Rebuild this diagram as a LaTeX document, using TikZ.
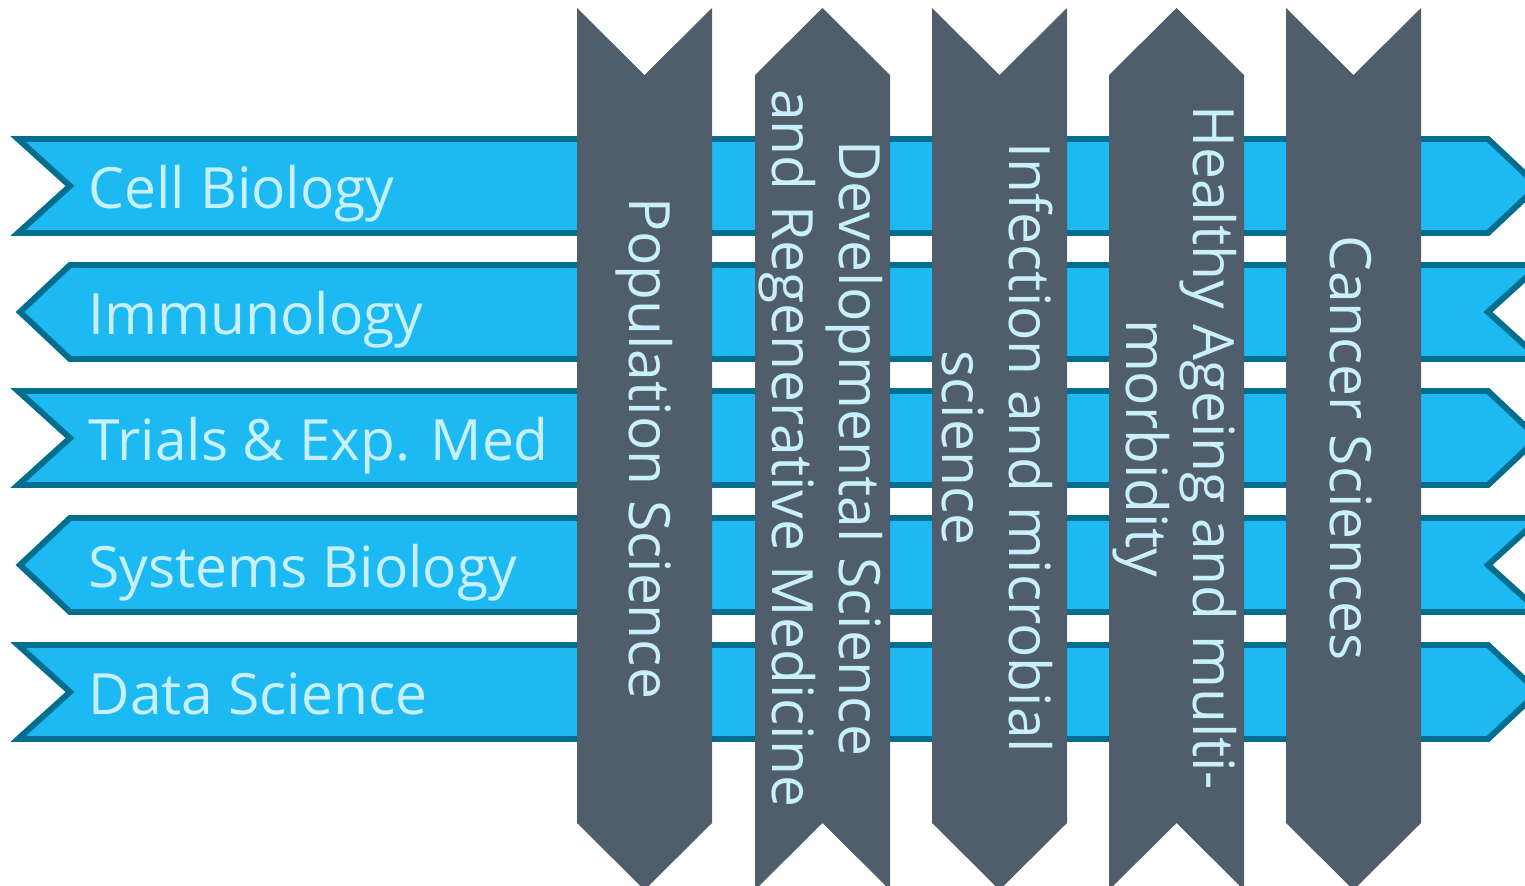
\documentclass[tikz,border=0pt]{standalone}
\usepackage{fontspec}
\setmainfont{Open Sans}
\usepackage{tikz}
\usetikzlibrary{positioning}
\definecolor{bandblue}{RGB}{28,185,242}
\definecolor{bandedge}{RGB}{0,110,140}
\definecolor{pillargrey}{RGB}{80,94,107}
\definecolor{labelcyan}{RGB}{200,240,250}
\tikzstyle{band} = [draw=bandedge, fill=bandblue, line width=1.7pt, line join=miter]
\tikzstyle{column} = [fill=pillargrey]
\tikzstyle{bandlabel} = [anchor=base west, inner sep=0pt, text=labelcyan, font=\fontsize{16.2}{19.5}\selectfont]
\tikzstyle{columnlabel} = [rotate=-90, inner sep=0pt, align=center, text=labelcyan, font=\fontsize{16.2}{19}\selectfont]

\begin{document}
\begin{tikzpicture}[x=0.1mm, y=-0.1mm]
\useasboundingbox (0,0) rectangle (1525,885);

\foreach \c/\t/\n in {186/Cell Biology/cellbio, 438/{Trials \& Exp. Med}/trials, 692/Data Science/datasci}{
  \draw[band] (18,\c-47) -- (1488,\c-47) -- (1538,\c) -- (1488,\c+47) -- (18,\c+47) -- (70,\c) -- cycle;
  \node[bandlabel] (\n) at (88,\c+22) {\t};
}
\foreach \c/\t/\n in {312/Immunology/immuno, 565/Systems Biology/sysbio}{
  \draw[band] (70,\c-47) -- (1540,\c-47) -- (1488,\c) -- (1540,\c+47) -- (70,\c+47) -- (20,\c) -- cycle;
  \node[bandlabel] (\n) at (88,\c+22) {\t};
}

\foreach \x in {577,932,1286}{
  \fill[column] (\x,8) -- (\x+67.5,75) -- (\x+135,8) -- (\x+135,823) -- (\x+67.5,890) -- (\x,823) -- cycle;
}
\foreach \x in {755,1109}{
  \fill[column] (\x,75) -- (\x+67.5,8) -- (\x+135,75) -- (\x+135,890) -- (\x+67.5,823) -- (\x,890) -- cycle;
}

\node[columnlabel] (popsci) at (644.5,448) {Population Science};
\node[columnlabel] (devsci) at (820.5,448) {Developmental Science\\and Regenerative Medicine};
\node[columnlabel] (infect) at (997.5,448) {Infection and microbial\\science};
\node[columnlabel] (ageing) at (1175,448) {Healthy Ageing and multi-\\morbidity};
\node[columnlabel] (cancer) at (1351.5,448) {Cancer Sciences};

\end{tikzpicture}
\end{document}
